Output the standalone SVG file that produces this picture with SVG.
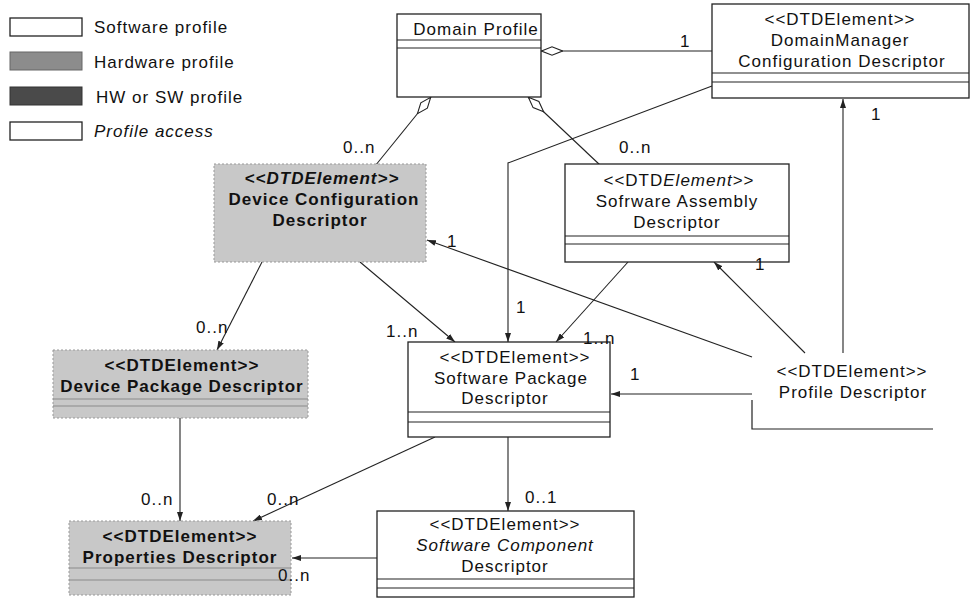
<svg xmlns="http://www.w3.org/2000/svg" width="971" height="611" viewBox="0 0 971 611">
<style>
text{font-family:"Liberation Sans",Arial,sans-serif;font-size:17px;letter-spacing:1px;fill:#111}
.c{text-anchor:middle}
.b{font-weight:bold}
.i{font-style:italic}
.box{fill:#fff;stroke:#222;stroke-width:1.3}
.gray{fill:#c8c8c8;stroke:#999;stroke-width:1;stroke-dasharray:2 2}
.sep{stroke:#222;stroke-width:1.2;fill:none}
.gsep{stroke:#8a8a8a;stroke-width:1;fill:none}
.ln{stroke:#222;stroke-width:1.1;fill:none}
.arr{marker-end:url(#ah)}
.agg{marker-start:url(#dm)}
</style>
<defs>
<marker id="ah" markerUnits="userSpaceOnUse" markerWidth="9" markerHeight="6" refX="9" refY="3" orient="auto">
<path d="M0,0 L9,3 L0,6 z" fill="#222"/>
</marker>
<marker id="dm" markerUnits="userSpaceOnUse" markerWidth="22" markerHeight="10" refX="0" refY="5" orient="auto">
<path d="M0.5,5 L11,0.8 L21.5,5 L11,9.2 z" fill="#fff" stroke="#222" stroke-width="1.1"/>
</marker>
</defs>

<g id="legend">
<rect class="box" x="10" y="18" width="72" height="18"/>
<text x="94" y="33">Software profile</text>
<rect x="10" y="52" width="72" height="18" fill="#8c8c8c" stroke="#666"/>
<text x="94" y="68">Hardware profile</text>
<rect x="10" y="87" width="72" height="18" fill="#4a4a4a" stroke="#333"/>
<text x="96" y="103">HW or SW profile</text>
<rect class="box" x="10" y="122" width="72" height="18"/>
<text class="i" x="94" y="137">Profile access</text>
</g>

<g id="connectors">
<line class="ln agg" x1="541" y1="51" x2="712" y2="51"/>
<line class="ln agg" x1="431" y1="97" x2="375" y2="166"/>
<line class="ln agg" x1="528" y1="97" x2="601" y2="166"/>
<polyline class="ln arr" points="712,86 508,163 508,342"/>
<line class="ln arr" x1="262" y1="262" x2="217" y2="350"/>
<line class="ln arr" x1="360" y1="262" x2="455" y2="342"/>
<line class="ln arr" x1="628" y1="262" x2="556" y2="342"/>
<line class="ln arr" x1="752" y1="357" x2="427" y2="240"/>
<line class="ln arr" x1="805" y1="353" x2="714" y2="262"/>
<line class="ln arr" x1="843" y1="353" x2="843" y2="99"/>
<line class="ln arr" x1="752" y1="394" x2="611" y2="394"/>
<line class="ln arr" x1="180" y1="418" x2="180" y2="521"/>
<line class="ln arr" x1="435" y1="437" x2="253" y2="521"/>
<line class="ln arr" x1="508" y1="437" x2="508" y2="511"/>
<line class="ln arr" x1="377" y1="558" x2="292" y2="558"/>
</g>

<g id="domain-profile">
<rect class="box" x="397" y="14" width="144" height="83"/>
<line class="sep" x1="397" y1="40" x2="541" y2="40"/>
<line class="sep" x1="397" y1="48" x2="541" y2="48"/>
<text class="c" x="476" y="35">Domain Profile</text>
</g>

<g id="domainmanager-config">
<rect class="box" x="712" y="4" width="257" height="94"/>
<line class="sep" x1="712" y1="73" x2="969" y2="73"/>
<line class="sep" x1="712" y1="82" x2="969" y2="82"/>
<text class="c" x="840" y="25">&lt;&lt;DTDElement&gt;&gt;</text>
<text class="c" x="840" y="46">DomainManager</text>
<text class="c" x="842" y="67">Configuration Descriptor</text>
</g>

<g id="device-config">
<rect class="gray" x="214" y="164" width="212" height="98"/>
<text class="c b i" x="322" y="184">&lt;&lt;DTDElement&gt;&gt;</text>
<text class="c b" x="324" y="205">Device Configuration</text>
<text class="c b" x="320" y="226">Descriptor</text>
</g>

<g id="software-assembly">
<rect class="box" x="565" y="164" width="224" height="98"/>
<line class="sep" x1="565" y1="236" x2="789" y2="236"/>
<line class="sep" x1="565" y1="244" x2="789" y2="244"/>
<text class="c" x="679" y="186">&lt;&lt;DTD<tspan class="i">Element</tspan>&gt;&gt;</text>
<text class="c" x="677" y="207">Sofrware Assembly</text>
<text class="c" x="677" y="228">Descriptor</text>
</g>

<g id="device-package">
<rect class="gray" x="53" y="350" width="255" height="68"/>
<line class="gsep" x1="53" y1="399" x2="308" y2="399"/>
<line class="gsep" x1="53" y1="406" x2="308" y2="406"/>
<text class="c b" x="182" y="371">&lt;&lt;DTDElement&gt;&gt;</text>
<text class="c b" x="182" y="392">Device Package Descriptor</text>
</g>

<g id="software-package">
<rect class="box" x="408" y="342" width="202" height="95"/>
<line class="sep" x1="408" y1="412" x2="610" y2="412"/>
<line class="sep" x1="408" y1="422" x2="610" y2="422"/>
<text class="c" x="515" y="363">&lt;&lt;DTDElement&gt;&gt;</text>
<text class="c" x="511" y="384">Software Package</text>
<text class="c" x="505" y="404">Descriptor</text>
</g>

<g id="profile-descriptor">
<polyline class="sep" points="752,400 752,429 933,429"/>
<text class="c" x="852" y="377">&lt;&lt;DTDElement&gt;&gt;</text>
<text class="c" x="853" y="398">Profile Descriptor</text>
</g>

<g id="properties">
<rect class="gray" x="69" y="521" width="222" height="74"/>
<line class="gsep" x1="69" y1="568" x2="291" y2="568"/>
<line class="gsep" x1="69" y1="580" x2="291" y2="580"/>
<text class="c b" x="180" y="542">&lt;&lt;DTDElement&gt;&gt;</text>
<text class="c b" x="180" y="563">Properties Descriptor</text>
</g>

<g id="software-component">
<rect class="box" x="377" y="511" width="257" height="86"/>
<line class="sep" x1="377" y1="579" x2="634" y2="579"/>
<line class="sep" x1="377" y1="588" x2="634" y2="588"/>
<text class="c" x="505" y="530">&lt;&lt;DTDElement&gt;&gt;</text>
<text class="c i" x="505" y="551">Software Component</text>
<text class="c" x="505" y="572">Descriptor</text>
</g>

<g id="connector-labels">
<text x="680" y="47">1</text>
<text x="343" y="153">0..n</text>
<text x="619" y="153">0..n</text>
<text x="516" y="313">1</text>
<text x="196" y="333">0..n</text>
<text x="386" y="337">1..n</text>
<text x="583" y="344">1..n</text>
<text x="447" y="247">1</text>
<text x="755" y="270">1</text>
<text x="871" y="120">1</text>
<text x="630" y="380">1</text>
<text x="141" y="505">0..n</text>
<text x="267" y="505">0..n</text>
<text x="525" y="503">0..1</text>
<text x="278" y="581">0..n</text>
</g>
</svg>
